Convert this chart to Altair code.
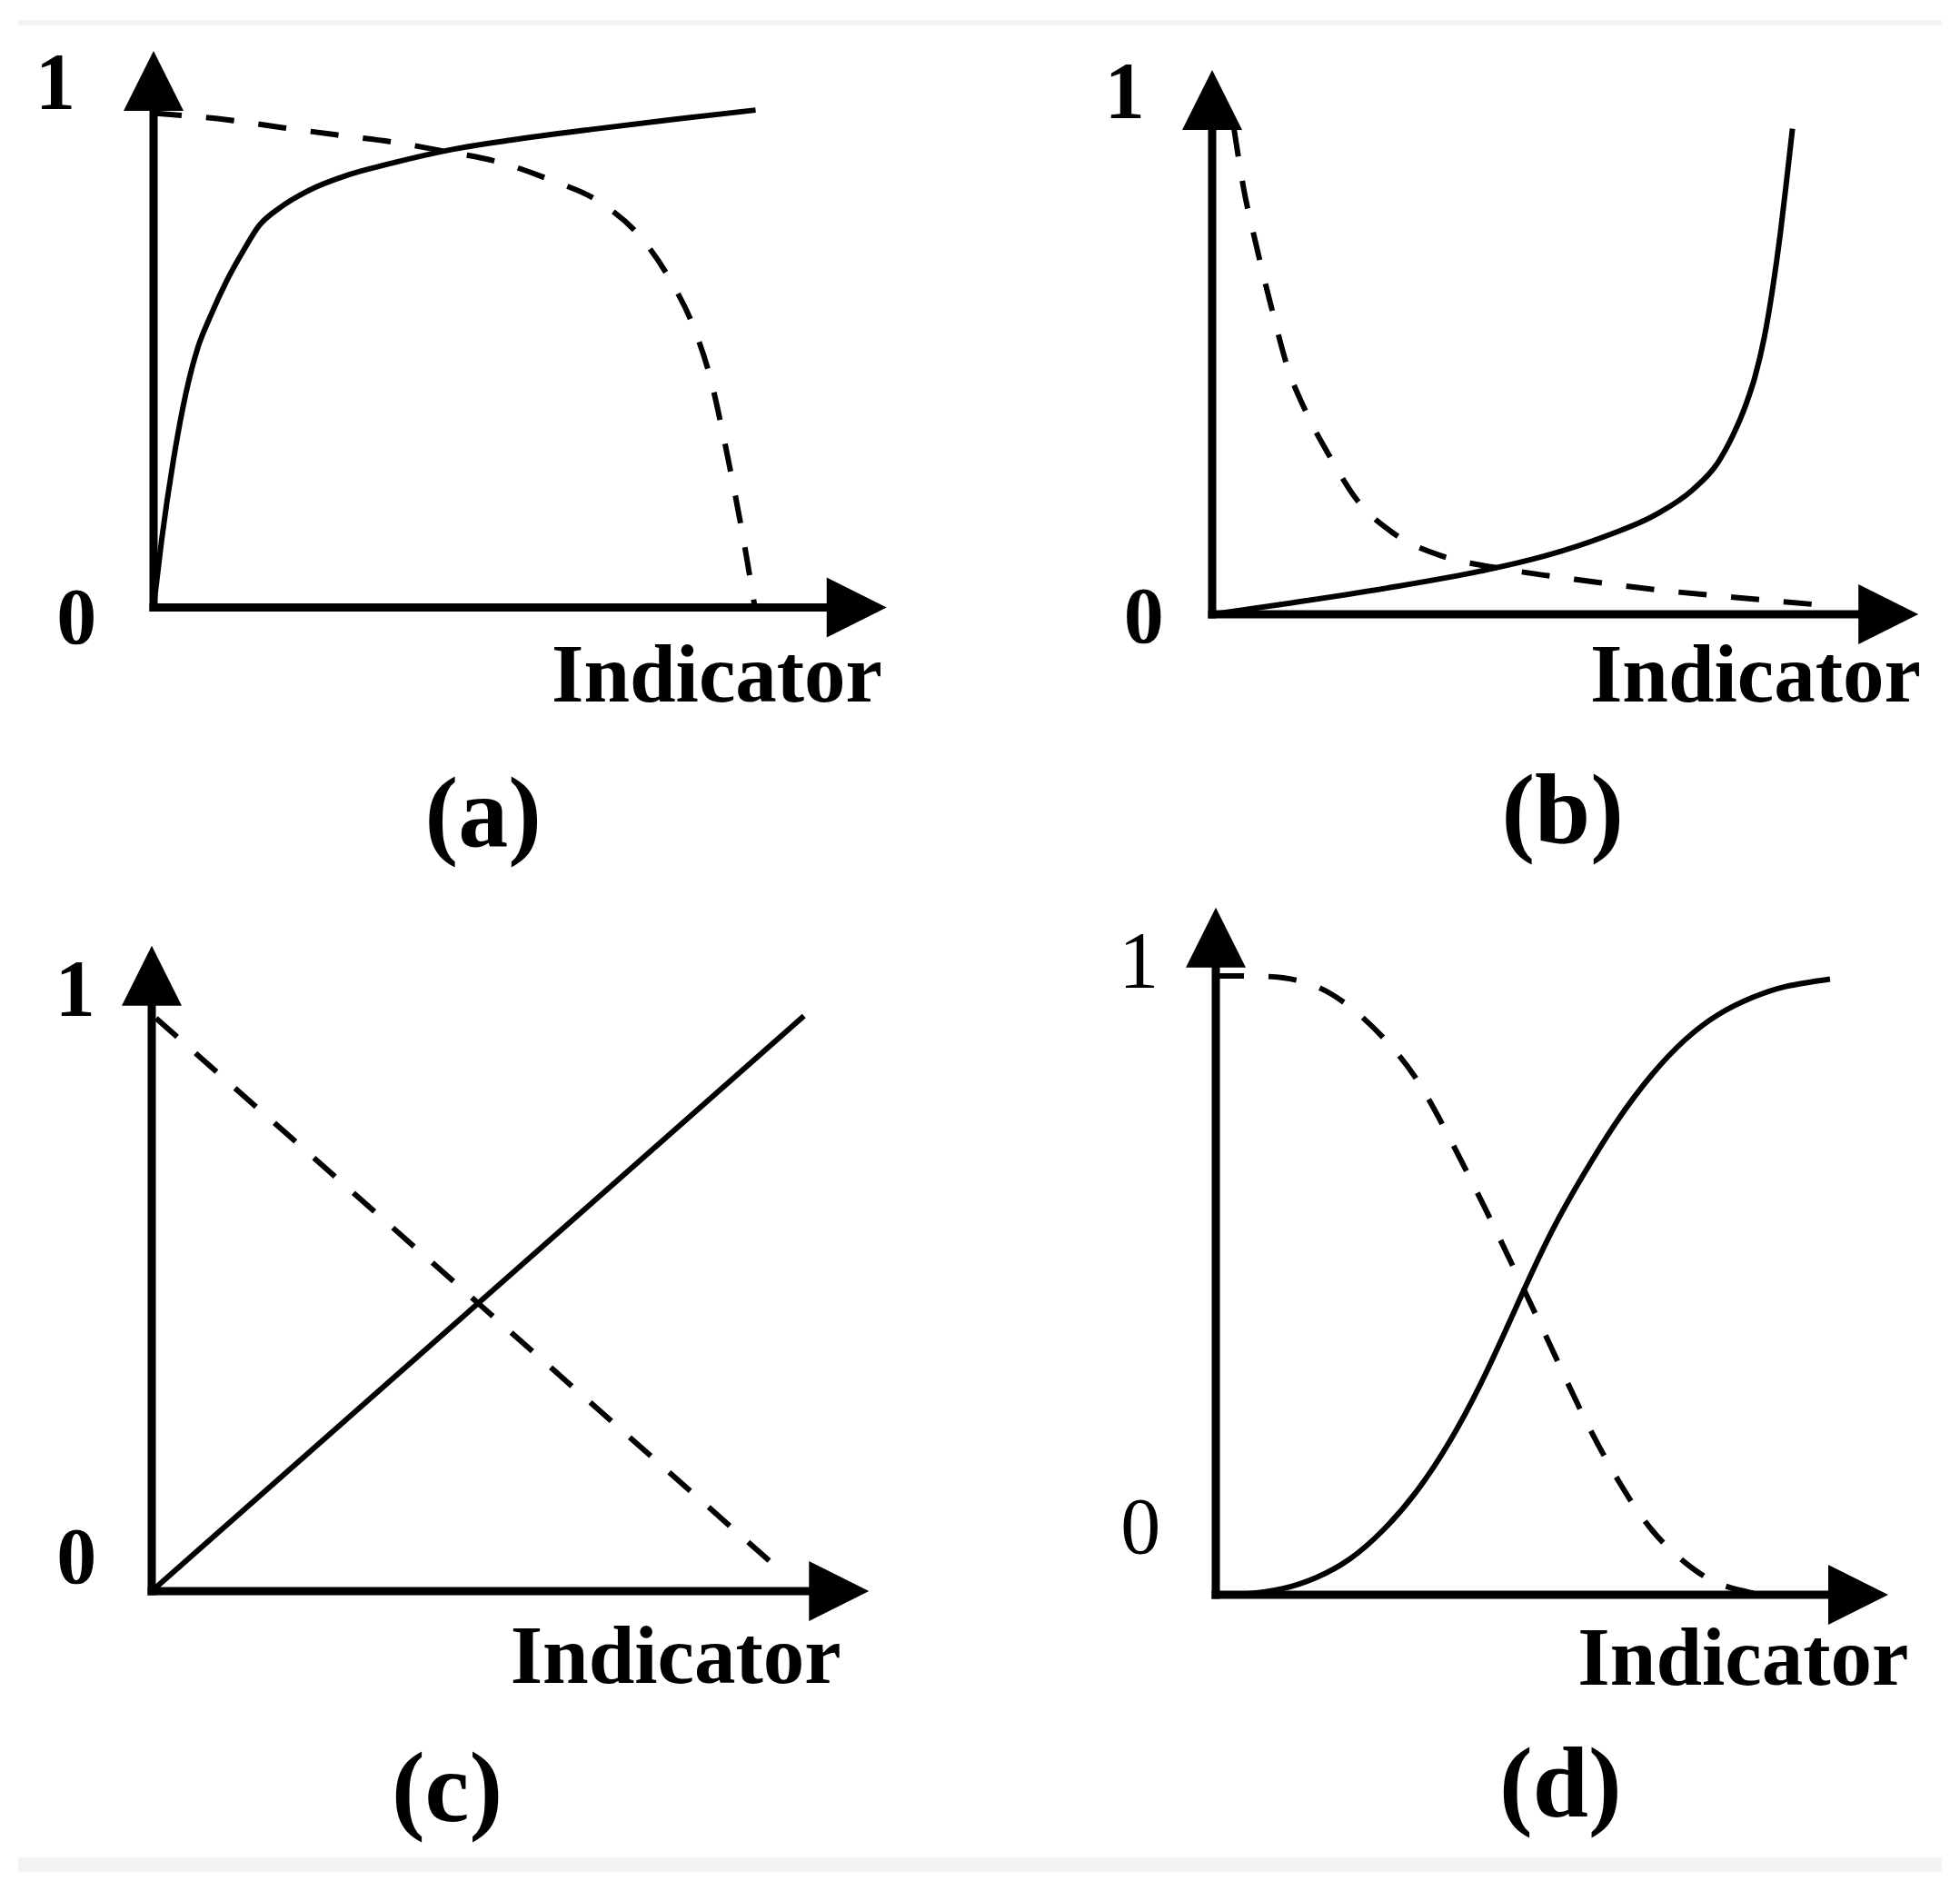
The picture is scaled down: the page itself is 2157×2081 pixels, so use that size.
import altair as alt
import pandas as pd

# ---------------- data ----------------
# x: fraction of the horizontal axis length (0 = origin, 1 = arrow tip); y: response (0..1)
A_SOLID_X = [0, 0.011, 0.028, 0.044, 0.061, 0.077, 0.100, 0.122, 0.144, 0.172, 0.210, 0.266, 0.321, 0.410, 0.487, 0.598, 0.709, 0.822]
A_SOLID_Y = [0, 0.136, 0.306, 0.432, 0.528, 0.587, 0.661, 0.720, 0.772, 0.808, 0.842, 0.875, 0.897, 0.927, 0.945, 0.967, 0.987, 1.006]
A_DASH_X = [0, 0.102, 0.174, 0.249, 0.324, 0.396, 0.471, 0.543, 0.609, 0.665, 0.706, 0.739, 0.762, 0.778, 0.792, 0.806, 0.821]
A_DASH_Y = [1.0, 0.986, 0.971, 0.956, 0.942, 0.923, 0.901, 0.864, 0.820, 0.749, 0.661, 0.561, 0.454, 0.347, 0.244, 0.133, 0.0]

B_SOLID_X = [0, 0.115, 0.248, 0.381, 0.469, 0.558, 0.629, 0.682, 0.717, 0.739, 0.757, 0.770, 0.783, 0.795, 0.806, 0.814, 0.823]
B_SOLID_Y = [0, 0.024, 0.054, 0.089, 0.119, 0.161, 0.205, 0.257, 0.312, 0.370, 0.432, 0.490, 0.570, 0.672, 0.787, 0.885, 1.0]
B_DASH_X = [0.031, 0.044, 0.062, 0.084, 0.106, 0.133, 0.168, 0.204, 0.257, 0.328, 0.407, 0.514, 0.646, 0.779, 0.872]
B_DASH_Y = [1.0, 0.882, 0.763, 0.632, 0.513, 0.417, 0.322, 0.238, 0.167, 0.119, 0.095, 0.072, 0.048, 0.030, 0.018]

C_SOLID_X = [0, 0.912]
C_SOLID_Y = [0, 1.0]
C_DASH_X = [0.006, 0.886]
C_DASH_Y = [0.996, 0.028]

D_SOLID_X = [0, 0.05, 0.10, 0.15, 0.20, 0.25, 0.30, 0.35, 0.40, 0.45, 0.50, 0.55, 0.60, 0.65, 0.70, 0.75, 0.80, 0.85, 0.916]
D_SOLID_Y = [0, 0.002, 0.010, 0.028, 0.058, 0.105, 0.168, 0.250, 0.352, 0.470, 0.585, 0.682, 0.768, 0.840, 0.897, 0.938, 0.965, 0.983, 0.995]
D_DASH_X = [0, 0.05, 0.10, 0.15, 0.20, 0.25, 0.30, 0.35, 0.40, 0.45, 0.50, 0.55, 0.60, 0.65, 0.70, 0.75, 0.80, 0.81]
D_DASH_Y = [1.0, 1.0, 0.997, 0.983, 0.950, 0.900, 0.832, 0.735, 0.628, 0.515, 0.400, 0.285, 0.185, 0.105, 0.052, 0.018, 0.003, 0.0]

TICK_TEXT = ["1", "0"]
AXIS_TITLE = "Indicator"
PANEL_LABELS = ["(a)", "(b)", "(c)", "(d)"]

# ---------------- layout (page pixels) ----------------
FONT = "Liberation Serif"
X_SPLIT, Y_SPLIT, RIGHT, BOTTOM, LEFT, TOP = 1080, 985, 2149, 2073, 8, 8

# origin x, origin y, px per x unit, px per y unit, box(left, top, right, bottom)
LAYOUTS = [
    (169, 668.4, 806, 544.0, (LEFT, TOP, X_SPLIT, Y_SPLIT)),
    (1334, 676.0, 776, 534.4, (X_SPLIT, TOP, RIGHT, Y_SPLIT)),
    (167, 1751.0, 787, 633.0, (LEFT, Y_SPLIT, X_SPLIT, BOTTOM)),
    (1338, 1755.0, 738, 681.0, (X_SPLIT, Y_SPLIT, RIGHT, BOTTOM)),
]
INTERP = ["monotone", "monotone", "linear", "natural"]
# arrow-head centres (y of up arrow, x of right arrow)
ARROW_Y = [1.065, 1.059, 1.070, 1.062]
ARROW_X = [0.960, 0.959, 0.961, 0.958]
# label anchors in data units: tick "1", tick "0", axis title (right/baseline), panel letter (centre/baseline)
TICK1 = [(-0.134, 1.058), (-0.124, 1.072), (-0.107, 1.043), (-0.115, 1.021)]
TICK0 = [(-0.105, -0.025), (-0.097, -0.009), (-0.105, 0.055), (-0.112, 0.105)]
TITLE_POS = [(0.995, -0.190), (1.005, -0.179), (0.964, -0.160), (1.033, -0.145)]
LETTER_POS = [(0.450, -0.483), (0.497, -0.472), (0.413, -0.400), (0.514, -0.359)]
TICK_WEIGHT = ["bold", "bold", "bold", "normal"]

UP = "M0,-1L1,1L-1,1Z"
RIGHTARROW = "M1,0L-1,1L-1,-1Z"


def make_panel(k, sx, sy, dx, dy):
    ox, oy, ux, uy, (l, t, r, b) = LAYOUTS[k]
    w, h = r - l, b - t
    xs = alt.Scale(domain=[(l - ox) / ux, (r - ox) / ux], nice=False, zero=False)
    ys = alt.Scale(domain=[(oy - b) / uy, (oy - t) / uy], nice=False, zero=False)
    X = alt.X("x:Q", scale=xs, axis=None)
    Y = alt.Y("y:Q", scale=ys, axis=None)

    axes_df = pd.DataFrame({"x": [0, 0], "y": [0, 0], "x2": [0, ARROW_X[k]], "y2": [ARROW_Y[k], 0]})
    axes = alt.Chart(axes_df).mark_rule(color="black", strokeWidth=9, strokeCap="square").encode(
        x=X, y=Y, x2="x2:Q", y2="y2:Q")

    arrows_df = pd.DataFrame({"x": [0, ARROW_X[k]], "y": [ARROW_Y[k], 0], "shape": [UP, RIGHTARROW]})
    arrows = alt.Chart(arrows_df).mark_point(filled=True, size=4356, opacity=1, color="black",
                                             strokeWidth=0).encode(
        x=X, y=Y, shape=alt.Shape("shape:N", scale=None))

    sdf = pd.DataFrame({"x": sx, "y": sy, "i": range(len(sx))})
    ddf = pd.DataFrame({"x": dx, "y": dy, "i": range(len(dx))})
    solid = alt.Chart(sdf).mark_line(color="black", strokeWidth=6, interpolate=INTERP[k]).encode(
        x=X, y=Y, order="i:Q")
    dashed = alt.Chart(ddf).mark_line(color="black", strokeWidth=6, interpolate=INTERP[k],
                                      strokeDash=[31, 27]).encode(x=X, y=Y, order="i:Q")

    ticks_df = pd.DataFrame({"x": [TICK1[k][0], TICK0[k][0]], "y": [TICK1[k][1], TICK0[k][1]],
                             "t": TICK_TEXT})
    ticks = alt.Chart(ticks_df).mark_text(font=FONT, fontSize=88, fontWeight=TICK_WEIGHT[k],
                                          color="black", align="center", baseline="middle").encode(
        x=X, y=Y, text="t:N")

    title_df = pd.DataFrame({"x": [TITLE_POS[k][0]], "y": [TITLE_POS[k][1]], "t": [AXIS_TITLE]})
    title = alt.Chart(title_df).mark_text(font=FONT, fontSize=91, fontWeight="bold", color="black",
                                          align="right", baseline="alphabetic").encode(
        x=X, y=Y, text="t:N")

    letter_df = pd.DataFrame({"x": [LETTER_POS[k][0]], "y": [LETTER_POS[k][1]], "t": [PANEL_LABELS[k]]})
    letter = alt.Chart(letter_df).mark_text(font=FONT, fontSize=110, fontWeight="bold", color="black",
                                            align="center", baseline="alphabetic").encode(
        x=X, y=Y, text="t:N")

    # faint grey frame strips of the original figure
    x0 = 20 - l if k in (0, 2) else 0
    x1 = w if k in (0, 2) else 2137 - l
    if k < 2:
        y0, y1 = 22 - t, 28 - t
    else:
        y0, y1 = 2044 - t, 2060 - t
    strip = alt.Chart(pd.DataFrame({"d": [0]})).mark_rect(color="#f3f3f3").encode(
        x=alt.value(x0), x2=alt.value(x1), y=alt.value(y0), y2=alt.value(y1))

    return alt.layer(strip, axes, solid, dashed, arrows, ticks, title, letter).properties(width=w, height=h)


pa = make_panel(0, A_SOLID_X, A_SOLID_Y, A_DASH_X, A_DASH_Y)
pb = make_panel(1, B_SOLID_X, B_SOLID_Y, B_DASH_X, B_DASH_Y)
pc = make_panel(2, C_SOLID_X, C_SOLID_Y, C_DASH_X, C_DASH_Y)
pd_ = make_panel(3, D_SOLID_X, D_SOLID_Y, D_DASH_X, D_DASH_Y)

chart = alt.vconcat(
    alt.hconcat(pa, pb, spacing=0),
    alt.hconcat(pc, pd_, spacing=0),
    spacing=0, padding=0, background="white",
).configure_view(strokeWidth=0)

chart.save("out.html", embed_options={"renderer": "svg", "actions": False})
